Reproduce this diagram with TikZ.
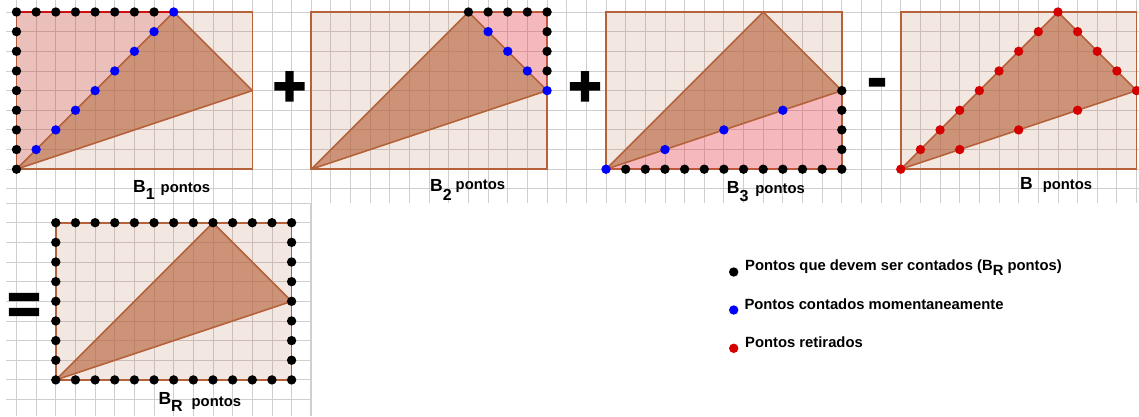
\documentclass[tikz,border=0pt]{standalone}
\usepackage{fontspec}
\setmainfont{Liberation Sans}
\font\opf="Liberation Sans/B:embolden=4" at 56pt
\definecolor{gridc}{HTML}{CFCFCF}
\definecolor{edgec}{HTML}{B5613A}
\definecolor{pinkc}{HTML}{FF1C42}
\definecolor{pinkd}{HTML}{C80000}
\definecolor{redl}{HTML}{D01010}
\definecolor{redd}{HTML}{D40000}
\definecolor{blued}{HTML}{0000FF}
\newcommand\bigB{\fontsize{17.5}{17.5}\selectfont\bfseries}
\newcommand\subf{\fontsize{16}{16}\selectfont\bfseries}
\newcommand\ptf{\fontsize{14.8}{15}\selectfont\bfseries}
\begin{document}
\begin{tikzpicture}[x=1pt,y=-1pt,
  gridline/.style={draw=gridc, line width=0.9pt},
  rectbox/.style={draw=edgec, line width=1.6pt, fill=edgec, fill opacity=0.15},
  tri/.style={draw=edgec, line width=1.6pt, fill=edgec, fill opacity=0.62, line join=round},
  pinkreg/.style={fill=pinkc, fill opacity=0.23},
  pinkregA/.style={fill=pinkd, fill opacity=0.17},
  txt/.style={inner sep=0pt, anchor=base west},
  op/.style={inner sep=0pt, anchor=base, font=\opf}
]
\def\dr{4.7pt}
\useasboundingbox (0,0) rectangle (1139,416);
\fill[white] (0,0) rectangle (1139,416);
% upper grid
\foreach \k in {0,...,57} \draw[gridline] ({16.5+19.65*\k},0) -- ({16.5+19.65*\k},203);
\foreach \k in {0,...,9} \draw[gridline] (6,{12+19.65*\k}) -- (1139,{12+19.65*\k});
% lower grid
\foreach \k in {0,...,15} \draw[gridline] ({16.5+19.65*\k},203) -- ({16.5+19.65*\k},416);
\foreach \k in {0,...,10} \draw[gridline] (6,{203.05+19.65*\k}) -- (311.25,{203.05+19.65*\k});
\draw[gridline, line width=1.8pt] (311.25,203) -- (311.25,416);

% panel 1
\begin{scope}[shift={(16.5,169.2)}, x=19.65pt, y=19.65pt]
  \draw[rectbox] (0,0) rectangle (12,8);
  \fill[pinkregA] (0,0) -- (0,8) -- (8,8) -- cycle;
  \draw[tri] (0,0) -- (8,8) -- (12,4) -- cycle;
  \draw[redl, line width=1.6pt] (0,8) -- (8,8);
  \foreach \j in {0,...,8} \fill[black] (0,\j) circle[radius=\dr];
  \foreach \i in {1,...,7} \fill[black] (\i,8) circle[radius=\dr];
  \foreach \i in {1,...,8} \fill[blued] (\i,\i) circle[radius=\dr];
\end{scope}
% panel 2
\begin{scope}[shift={(311.25,169.2)}, x=19.65pt, y=19.65pt]
  \draw[rectbox] (0,0) rectangle (12,8);
  \fill[pinkreg] (8,8) -- (12,8) -- (12,4) -- cycle;
  \draw[tri] (0,0) -- (8,8) -- (12,4) -- cycle;
  \foreach \i in {8,...,12} \fill[black] (\i,8) circle[radius=\dr];
  \foreach \j in {5,6,7} \fill[black] (12,\j) circle[radius=\dr];
  \foreach \p in {(9,7),(10,6),(11,5),(12,4)} \fill[blued] \p circle[radius=\dr];
\end{scope}
% panel 3
\begin{scope}[shift={(606,169.2)}, x=19.65pt, y=19.65pt]
  \draw[rectbox] (0,0) rectangle (12,8);
  \fill[pinkreg] (0,0) -- (12,0) -- (12,4) -- cycle;
  \draw[tri] (0,0) -- (8,8) -- (12,4) -- cycle;
  \foreach \i in {1,...,12} \fill[black] (\i,0) circle[radius=\dr];
  \foreach \j in {1,...,4} \fill[black] (12,\j) circle[radius=\dr];
  \foreach \p in {(0,0),(3,1),(6,2),(9,3)} \fill[blued] \p circle[radius=\dr];
\end{scope}
% panel 4
\begin{scope}[shift={(900.75,169.2)}, x=19.65pt, y=19.65pt]
  \draw[rectbox] (0,0) rectangle (12,8);
  \draw[tri] (0,0) -- (8,8) -- (12,4) -- cycle;
  \foreach \i in {0,...,8} \fill[redd] (\i,\i) circle[radius=\dr];
  \foreach \p in {(9,7),(10,6),(11,5),(12,4),(3,1),(6,2),(9,3)} \fill[redd] \p circle[radius=\dr];
\end{scope}
% result panel
\begin{scope}[shift={(55.8,379.9)}, x=19.65pt, y=19.65pt]
  \draw[rectbox] (0,0) rectangle (12,8);
  \draw[tri] (0,0) -- (8,8) -- (12,4) -- cycle;
  \foreach \i in {0,...,12} {\fill[black] (\i,0) circle[radius=\dr]; \fill[black] (\i,8) circle[radius=\dr];}
  \foreach \j in {1,...,7} {\fill[black] (0,\j) circle[radius=\dr]; \fill[black] (12,\j) circle[radius=\dr];}
\end{scope}

% labels
\node[txt] (l1) at (133,192.3) {\bigB B\raisebox{-7pt}{\subf 1}\hspace{6pt}{\ptf pontos}};
\node[txt] (l2) at (430,191.7) {\bigB B\raisebox{-8.3pt}{\subf 2}\hspace{4pt}\raisebox{2.4pt}{\ptf pontos}};
\node[txt] (l3) at (726.7,193.3) {\bigB B\raisebox{-8.4pt}{\subf 3}\hspace{7pt}{\ptf pontos}};
\node[txt] (l4) at (1020,189.3) {\bigB B\hspace{10pt}{\ptf pontos}};
\node[txt] (lr) at (158.3,404) {\bigB B\raisebox{-7pt}{\subf R}\hspace{9pt}\raisebox{-2pt}{\ptf pontos}};

% operators
\node[op] (plus1) at (289.5,105) {+};
\node[op] (plus2) at (585,105) {+};
\node[op] (minus) at (877,96.8) {-};
\node[op] (eq) at (24,323) {=};

% legend
\fill[black] (733.7,272) circle[radius=\dr];
\fill[blued] (733.7,310) circle[radius=\dr];
\fill[redd] (733.7,348.3) circle[radius=\dr];
\node[txt] (lg1) at (745,270) {\ptf Pontos que devem ser contados (B\raisebox{-5pt}{R} pontos)};
\node[txt] (lg2) at (744.3,309) {\ptf Pontos contados momentaneamente};
\node[txt] (lg3) at (745,347.3) {\ptf Pontos retirados};
\end{tikzpicture}
\end{document}
